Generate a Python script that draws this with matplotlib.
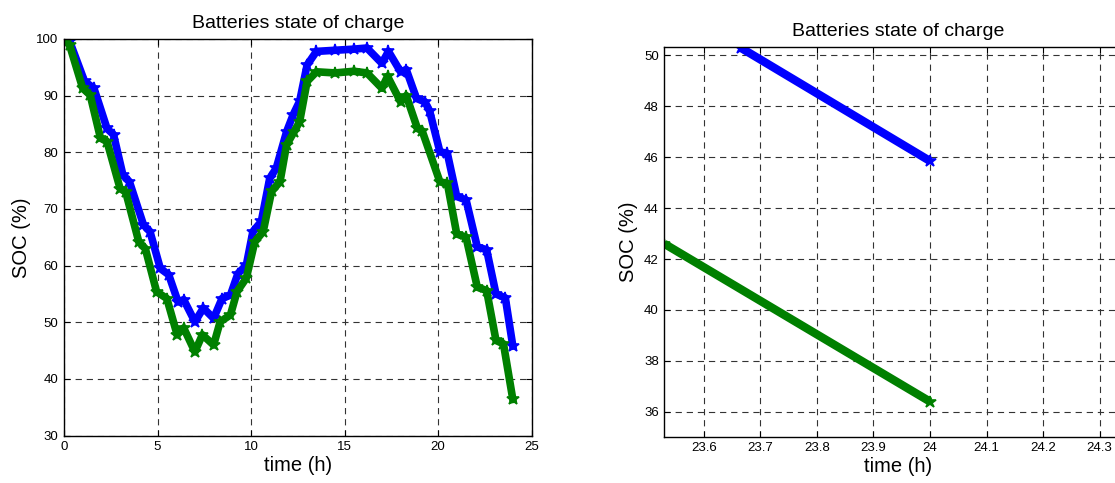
import matplotlib
matplotlib.use("Agg")
import matplotlib.pyplot as plt

plt.rcParams["font.family"] = ["Liberation Sans", "DejaVu Sans"]
plt.rcParams["lines.scale_dashes"] = False

# battery 1 (blue), full day
t_blue = [0.0, 0.3, 1.1, 1.6, 2.3, 2.65, 3.15, 3.5, 4.25, 4.6, 5.15, 5.6,
          6.1, 6.4, 7.0, 7.45, 8.0, 8.45, 8.9, 9.3, 9.75, 10.1, 10.55, 11.0,
          11.35, 11.9, 12.25, 12.6, 13.0, 13.5, 14.5, 15.5, 16.2, 17.0, 17.35,
          18.0, 18.3, 18.85, 19.3, 19.55, 20.1, 20.5, 21.0, 21.5, 22.1, 22.6,
          23.1, 23.6, 24.0]
soc_blue = [100, 99.6, 92.5, 91.3, 84.2, 83.1, 76.0, 74.8, 67.2, 66.0, 59.5, 58.4,
            53.6, 54.0, 50.1, 52.5, 50.7, 54.2, 54.8, 58.6, 60.1, 66.0, 67.8, 75.4,
            77.2, 83.6, 86.6, 89.0, 95.4, 97.8, 98.0, 98.2, 98.4, 95.7, 97.8,
            94.2, 94.6, 89.5, 88.9, 87.3, 80.1, 79.8, 72.2, 71.6, 63.3, 62.8,
            55.0, 54.3, 45.8]

# battery 2 (green), full day
t_green = [0.0, 0.3, 1.0, 1.4, 1.95, 2.3, 3.0, 3.3, 4.0, 4.35, 4.95, 5.5,
           6.05, 6.4, 7.0, 7.4, 8.0, 8.35, 8.9, 9.25, 9.75, 10.2, 10.65, 11.1,
           11.55, 11.9, 12.3, 12.6, 13.0, 13.5, 14.5, 15.5, 16.2, 17.0, 17.3,
           18.0, 18.3, 18.9, 19.15, 20.1, 20.5, 21.0, 21.5, 22.1, 22.6,
           23.1, 23.5, 24.0]
soc_green = [100, 98.9, 91.3, 90.1, 82.5, 81.9, 73.6, 73.0, 64.2, 63.0, 55.4, 54.2,
             47.8, 49.0, 44.8, 47.8, 46.0, 50.1, 51.3, 55.4, 57.8, 64.2, 66.0, 73.1,
             74.8, 81.3, 83.6, 85.4, 92.5, 94.2, 94.0, 94.3, 94.0, 91.3, 93.4,
             88.9, 90.0, 84.2, 83.8, 74.8, 74.5, 65.6, 65.0, 56.2, 55.6,
             46.8, 46.2, 36.4]

# zoomed view of the end of the day
zt_blue = [23.665, 24.0]
zsoc_blue = [50.3, 45.85]
zt_green = [23.53, 24.0]
zsoc_green = [42.6, 36.4]

blue = "#0000ff"
green = "#008000"

fig = plt.figure(figsize=(11.15, 4.83), dpi=100)
ax1 = fig.add_axes([0.0574, 0.098, 0.4193, 0.8214])
ax2 = fig.add_axes([0.5958, 0.0958, 0.4193, 0.8075])


def style(ax):
    ax.grid(True, color="0.2", linestyle=(0, (4.5, 3.5)), linewidth=0.8)
    ax.set_axisbelow(True)
    ax.tick_params(direction="in", top=True, right=True, length=4,
                   width=0.8, labelsize=9.5, pad=4)
    for s in ax.spines.values():
        s.set_linewidth(1.0)
    ax.set_title("Batteries state of charge", fontsize=14, pad=8)
    ax.set_xlabel("time (h)", fontsize=14.5, labelpad=2)
    ax.set_ylabel("SOC (%)", fontsize=14.5, labelpad=4)


ax1.plot(t_blue, soc_blue, color=blue, lw=5.5, marker="*", ms=9, mew=1.2)
ax1.plot(t_green, soc_green, color=green, lw=5.5, marker="*", ms=9, mew=1.2)
ax1.set_xlim(0, 25)
ax1.set_ylim(30, 100)
ax1.set_xticks([0, 5, 10, 15, 20, 25])
ax1.set_yticks([30, 40, 50, 60, 70, 80, 90, 100])
style(ax1)

ax2.plot(zt_blue, zsoc_blue, color=blue, lw=6, marker="*", ms=9, mew=1.2,
         solid_capstyle="butt")
ax2.plot(zt_green, zsoc_green, color=green, lw=6, marker="*", ms=9, mew=1.2,
         solid_capstyle="butt")
ax2.set_xlim(23.53, 24.357)
ax2.set_ylim(35.02, 50.34)
ax2.set_xticks([23.6, 23.7, 23.8, 23.9, 24.0, 24.1, 24.2, 24.3])
ax2.set_xticklabels(["23.6", "23.7", "23.8", "23.9", "24", "24.1", "24.2", "24.3"])
ax2.set_yticks([36, 38, 40, 42, 44, 46, 48, 50])
style(ax2)

fig.savefig("out.png", dpi=100)
